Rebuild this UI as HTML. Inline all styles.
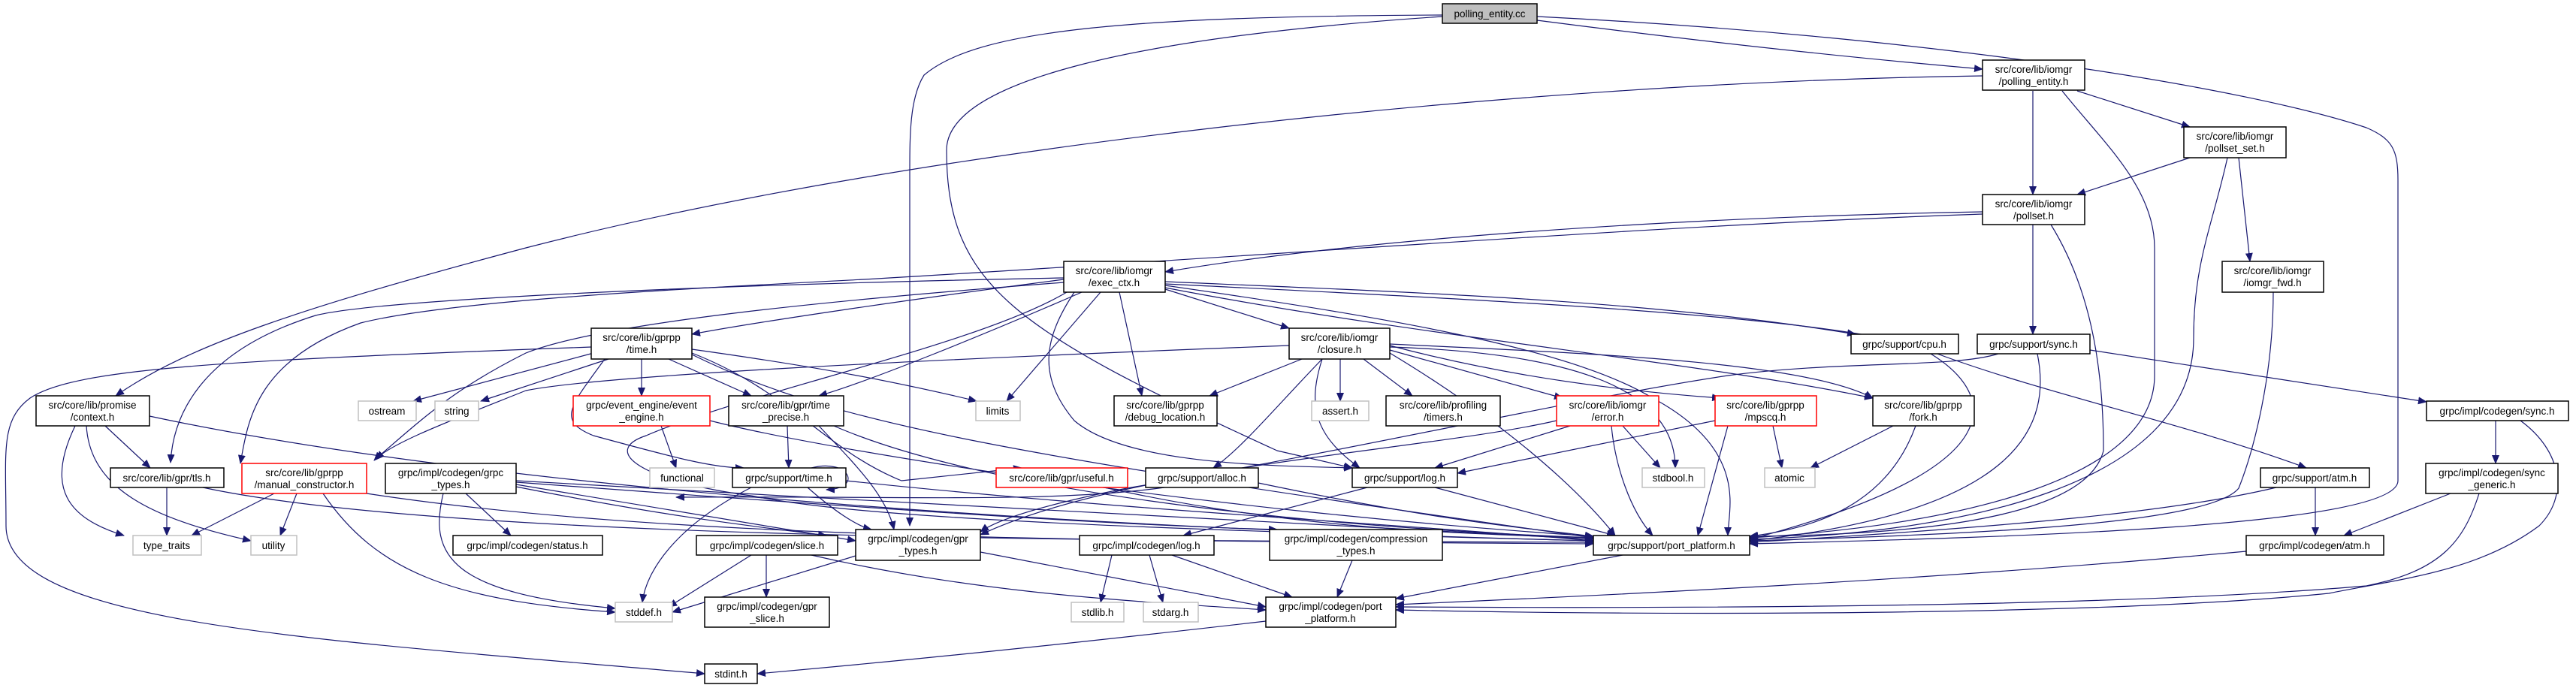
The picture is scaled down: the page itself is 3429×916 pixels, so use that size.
<!DOCTYPE html>
<html><head><meta charset="utf-8"><style>
html,body{margin:0;padding:0;background:#fff;}
svg{display:block;}
text{font-family:"Liberation Sans",sans-serif;font-size:13.5px;fill:#000;text-anchor:middle;}
.e{fill:none;stroke:#191970;stroke-width:1.2;marker-end:url(#a);}
.n{fill:#fff;stroke:#000;stroke-width:1.5;}
.g{fill:#fff;stroke:#c0c0c0;stroke-width:1.5;}
.r{fill:#fff;stroke:#ff0000;stroke-width:1.5;}
</style></head><body>
<svg width="3429" height="916" viewBox="0 0 3429 916" xmlns="http://www.w3.org/2000/svg">
<defs><marker id="a" markerWidth="12" markerHeight="10" refX="11" refY="5" orient="auto" markerUnits="userSpaceOnUse"><path d="M0,0 L12,5 L0,10 Z" fill="#191970"/></marker></defs>
<g>
<path class="e" d="M2046,27 C2300,60 2500,80 2639,92"/>
<path class="e" d="M2046,22 C2600,50 3000,120 3150,170 C3185,185 3192,200 3192,240 L3192,640 C3192,700 2700,715 2329,724"/>
<path class="e" d="M1920,20 C1500,22 1300,40 1230,100 C1211,130 1211,180 1211,230 L1211,700"/>
<path class="e" d="M1920,22 C1500,50 1260,110 1260,200 C1260,380 1350,440 1700,600 L1800,623"/>
<path class="e" d="M2639,101 C2000,110 1200,200 700,330 C400,410 250,460 154,527"/>
<path class="e" d="M2706,121 L2706,259"/>
<path class="e" d="M2765,121 L2915,169"/>
<path class="e" d="M2745,121 C2800,190 2868,250 2868,330 L2868,500 C2868,640 2600,700 2329,716"/>
<path class="e" d="M2915,210 L2765,259"/>
<path class="e" d="M2980,210 L2995,348"/>
<path class="e" d="M2965,210 C2945,300 2920,350 2920,450 C2920,650 2600,710 2329,718"/>
<path class="e" d="M3026,389 C3026,500 3000,600 2980,650 C2940,700 2600,712 2329,720"/>
<path class="e" d="M2639,282 C2200,290 1800,320 1551,362"/>
<path class="e" d="M2639,285 C2200,300 1700,340 1150,372 C900,385 600,400 480,430 C340,480 330,560 320,617"/>
<path class="e" d="M2706,299 L2706,445"/>
<path class="e" d="M2730,299 C2780,380 2800,480 2800,600 C2780,680 2600,712 2329,714"/>
<path class="e" d="M1551,385 L1716,437"/>
<path class="e" d="M1416,372 C1200,400 1000,430 921,445"/>
<path class="e" d="M1440,389 C1300,450 1150,510 1090,527"/>
<path class="e" d="M1465,389 L1340,534"/>
<path class="e" d="M1490,389 L1520,527"/>
<path class="e" d="M1551,375 C1900,390 2200,400 2470,445"/>
<path class="e" d="M1551,378 C2000,400 2400,420 2550,460 C2700,520 2900,560 3070,623"/>
<path class="e" d="M1551,380 C1900,430 2100,470 2200,530 C2330,600 2300,680 2300,713"/>
<path class="e" d="M1551,383 C1900,450 2250,480 2493,530"/>
<path class="e" d="M1416,370 C900,380 500,400 420,420 C260,470 230,560 227,616"/>
<path class="e" d="M1416,376 C1100,400 800,430 700,470 C600,520 560,560 500,611"/>
<path class="e" d="M1420,389 C1300,460 1000,520 860,580 C800,600 850,640 1000,660 C1100,680 1300,700 2121,720"/>
<path class="e" d="M1430,389 C1390,450 1380,500 1430,560 C1500,620 1700,620 1800,623"/>
<path class="e" d="M790,470 L550,534"/>
<path class="e" d="M810,478 L640,534"/>
<path class="e" d="M854,478 L854,527"/>
<path class="e" d="M890,478 L1000,527"/>
<path class="e" d="M921,465 C1100,490 1200,510 1300,534"/>
<path class="e" d="M805,478 C760,540 740,560 790,580 C900,610 950,623 990,623"/>
<path class="e" d="M787,462 C300,480 100,490 40,530 C0,560 8,600 8,700 C8,830 400,850 938,897"/>
<path class="e" d="M921,470 C1050,520 1100,600 1200,640 L1360,623"/>
<path class="e" d="M921,472 C1100,560 1300,600 2121,716"/>
<path class="e" d="M1733,478 L1610,527"/>
<path class="e" d="M1784,478 L1784,534"/>
<path class="e" d="M1815,478 L1880,527"/>
<path class="e" d="M1850,466 L2080,530"/>
<path class="e" d="M1850,460 C2000,500 2150,520 2290,530"/>
<path class="e" d="M1850,458 C2100,470 2400,480 2493,530"/>
<path class="e" d="M1760,478 C1700,540 1650,600 1615,623"/>
<path class="e" d="M1760,478 C1740,540 1750,580 1810,623"/>
<path class="e" d="M1850,462 C2100,470 2230,520 2230,623"/>
<path class="e" d="M1716,460 C1200,480 800,500 700,520 C600,560 520,590 498,613"/>
<path class="e" d="M1850,470 C2000,560 2100,650 2150,713"/>
<path class="e" d="M140,567 L200,623"/>
<path class="e" d="M100,567 C60,650 90,690 165,713"/>
<path class="e" d="M115,567 C120,650 200,690 334,720"/>
<path class="e" d="M199,554 C600,640 1300,700 2121,720"/>
<path class="e" d="M222,649 L222,713"/>
<path class="e" d="M270,649 C600,720 1500,720 2121,722"/>
<path class="e" d="M365,657 L255,713"/>
<path class="e" d="M395,657 L373,713"/>
<path class="e" d="M430,657 C500,760 600,800 819,815"/>
<path class="e" d="M488,657 C900,720 1500,720 2121,724"/>
<path class="e" d="M620,657 L680,713"/>
<path class="e" d="M590,657 C570,740 600,790 819,810"/>
<path class="e" d="M687,645 L1139,720"/>
<path class="e" d="M687,648 C900,690 1000,700 1100,713"/>
<path class="e" d="M687,642 C1200,680 1500,700 1700,705"/>
<path class="e" d="M687,640 C1200,670 1800,700 2121,718"/>
<path class="e" d="M880,567 L900,623"/>
<path class="e" d="M945,560 C1100,600 1600,680 2121,714"/>
<path class="e" d="M1048,567 L1050,623"/>
<path class="e" d="M1090,567 C1140,620 1180,660 1190,705"/>
<path class="e" d="M1110,567 C1300,650 1700,700 2121,716"/>
<path class="e" d="M1080,623 C1130,610 1150,650 1100,652"/>
<path class="e" d="M1000,649 C900,700 860,760 855,802"/>
<path class="e" d="M1075,649 C1110,680 1140,700 1160,705"/>
<path class="e" d="M1126,640 C1500,680 1900,700 2121,720"/>
<path class="e" d="M1000,739 L890,808"/>
<path class="e" d="M1020,739 L1020,795"/>
<path class="e" d="M1080,739 C1300,790 1500,800 1685,812"/>
<path class="e" d="M1139,740 L895,815"/>
<path class="e" d="M1305,735 L1685,808"/>
<path class="e" d="M1470,649 C1700,700 1900,710 2121,716"/>
<path class="e" d="M1550,649 C1400,670 1200,660 900,662"/>
<path class="e" d="M1675,643 C1900,690 2000,700 2121,714"/>
<path class="e" d="M1820,649 L1575,713"/>
<path class="e" d="M1910,649 L2150,713"/>
<path class="e" d="M1480,739 L1465,802"/>
<path class="e" d="M1530,739 L1548,802"/>
<path class="e" d="M1560,739 L1720,795"/>
<path class="e" d="M1800,746 L1780,795"/>
<path class="e" d="M2160,739 L1858,797"/>
<path class="e" d="M1685,827 C1400,860 1200,880 1008,897"/>
<path class="e" d="M2090,567 L1910,623"/>
<path class="e" d="M2160,567 L2210,623"/>
<path class="e" d="M2145,567 C2150,620 2170,680 2200,713"/>
<path class="e" d="M2072,560 C1900,600 1500,620 1305,712"/>
<path class="e" d="M2300,567 L2260,713"/>
<path class="e" d="M2283,560 L1940,630"/>
<path class="e" d="M2360,567 L2372,623"/>
<path class="e" d="M2520,567 L2410,623"/>
<path class="e" d="M2550,567 C2520,650 2450,700 2329,714"/>
<path class="e" d="M2570,471 C2650,520 2700,620 2329,718"/>
<path class="e" d="M2712,471 C2730,560 2700,680 2329,720"/>
<path class="e" d="M2782,466 L3230,535"/>
<path class="e" d="M2660,471 C2600,490 2450,480 2300,500 C2100,530 1800,600 1500,650 C1400,670 1330,690 1305,708"/>
<path class="e" d="M3322,560 L3322,617"/>
<path class="e" d="M3355,560 C3410,600 3420,660 3380,700 C3300,760 3200,770 3100,790 C2800,820 2200,820 1858,812"/>
<path class="e" d="M3262,657 L3120,713"/>
<path class="e" d="M3300,657 C3280,720 3250,760 3150,780 C2800,810 2200,810 1858,808"/>
<path class="e" d="M3082,649 L3082,713"/>
<path class="e" d="M3030,649 C2900,680 2700,700 2329,722"/>
<path class="e" d="M2990,734 C2600,770 2200,790 1858,805"/>
</g>
<rect x="1920" y="5" width="126" height="26" fill="#bfbfbf" stroke="#000" stroke-width="1.5"/><text x="1983" y="23">polling_entity.cc</text>
<rect class="n" x="2639" y="80" width="136" height="40"/><text x="2707" y="97">src/core/lib/iomgr</text><text x="2707" y="113">/polling_entity.h</text>
<rect class="n" x="2907" y="169" width="136" height="41"/><text x="2975" y="186">src/core/lib/iomgr</text><text x="2975" y="202">/pollset_set.h</text>
<rect class="n" x="2639" y="259" width="136" height="40"/><text x="2707" y="276">src/core/lib/iomgr</text><text x="2707" y="292">/pollset.h</text>
<rect class="n" x="2958" y="348" width="135" height="41"/><text x="3025" y="365">src/core/lib/iomgr</text><text x="3025" y="381">/iomgr_fwd.h</text>
<rect class="n" x="2464" y="445" width="143" height="26"/><text x="2535" y="463">grpc/support/cpu.h</text>
<rect class="n" x="2632" y="445" width="150" height="26"/><text x="2707" y="463">grpc/support/sync.h</text>
<rect class="n" x="1416" y="348" width="135" height="41"/><text x="1483" y="365">src/core/lib/iomgr</text><text x="1483" y="381">/exec_ctx.h</text>
<rect class="n" x="1716" y="437" width="134" height="41"/><text x="1783" y="454">src/core/lib/iomgr</text><text x="1783" y="470">/closure.h</text>
<rect class="n" x="787" y="437" width="134" height="41"/><text x="854" y="454">src/core/lib/gprpp</text><text x="854" y="470">/time.h</text>
<rect class="n" x="48" y="527" width="151" height="40"/><text x="123" y="544">src/core/lib/promise</text><text x="123" y="560">/context.h</text>
<rect class="n" x="147" y="623" width="151" height="26"/><text x="222" y="641">src/core/lib/gpr/tls.h</text>
<rect class="r" x="322" y="617" width="166" height="40"/><text x="405" y="634">src/core/lib/gprpp</text><text x="405" y="650">/manual_constructor.h</text>
<rect class="n" x="513" y="617" width="174" height="40"/><text x="600" y="634">grpc/impl/codegen/grpc</text><text x="600" y="650">_types.h</text>
<rect class="g" x="477" y="534" width="77" height="26"/><text x="515" y="552">ostream</text>
<rect class="g" x="579" y="534" width="58" height="26"/><text x="608" y="552">string</text>
<rect class="r" x="763" y="527" width="182" height="40"/><text x="854" y="544">grpc/event_engine/event</text><text x="854" y="560">_engine.h</text>
<rect class="n" x="970" y="527" width="153" height="40"/><text x="1046" y="544">src/core/lib/gpr/time</text><text x="1046" y="560">_precise.h</text>
<rect class="g" x="865" y="623" width="86" height="26"/><text x="908" y="641">functional</text>
<rect class="n" x="975" y="623" width="151" height="26"/><text x="1050" y="641">grpc/support/time.h</text>
<rect class="g" x="177" y="713" width="91" height="26"/><text x="222" y="731">type_traits</text>
<rect class="g" x="334" y="713" width="61" height="26"/><text x="364" y="731">utility</text>
<rect class="n" x="603" y="713" width="199" height="26"/><text x="702" y="731">grpc/impl/codegen/status.h</text>
<rect class="n" x="927" y="713" width="188" height="26"/><text x="1021" y="731">grpc/impl/codegen/slice.h</text>
<rect class="g" x="819" y="802" width="76" height="26"/><text x="857" y="820">stddef.h</text>
<rect class="n" x="938" y="795" width="166" height="40"/><text x="1021" y="812">grpc/impl/codegen/gpr</text><text x="1021" y="828">_slice.h</text>
<rect class="n" x="938" y="884" width="70" height="26"/><text x="973" y="902">stdint.h</text>
<rect class="g" x="1299" y="534" width="59" height="26"/><text x="1328" y="552">limits</text>
<rect class="n" x="1483" y="527" width="137" height="40"/><text x="1551" y="544">src/core/lib/gprpp</text><text x="1551" y="560">/debug_location.h</text>
<rect class="g" x="1746" y="534" width="76" height="26"/><text x="1784" y="552">assert.h</text>
<rect class="n" x="1845" y="527" width="152" height="40"/><text x="1921" y="544">src/core/lib/profiling</text><text x="1921" y="560">/timers.h</text>
<rect class="r" x="2072" y="527" width="136" height="40"/><text x="2140" y="544">src/core/lib/iomgr</text><text x="2140" y="560">/error.h</text>
<rect class="r" x="1326" y="623" width="175" height="26"/><text x="1413" y="641">src/core/lib/gpr/useful.h</text>
<rect class="n" x="1525" y="623" width="150" height="26"/><text x="1600" y="641">grpc/support/alloc.h</text>
<rect class="n" x="1800" y="623" width="140" height="26"/><text x="1870" y="641">grpc/support/log.h</text>
<rect class="g" x="2186" y="623" width="83" height="26"/><text x="2227" y="641">stdbool.h</text>
<rect class="n" x="1139" y="705" width="166" height="41"/><text x="1222" y="722">grpc/impl/codegen/gpr</text><text x="1222" y="738">_types.h</text>
<rect class="n" x="1437" y="713" width="179" height="26"/><text x="1526" y="731">grpc/impl/codegen/log.h</text>
<rect class="n" x="1690" y="705" width="230" height="41"/><text x="1805" y="722">grpc/impl/codegen/compression</text><text x="1805" y="738">_types.h</text>
<rect class="n" x="2121" y="713" width="208" height="26"/><text x="2225" y="731">grpc/support/port_platform.h</text>
<rect class="g" x="1426" y="802" width="70" height="26"/><text x="1461" y="820">stdlib.h</text>
<rect class="g" x="1522" y="802" width="73" height="26"/><text x="1558" y="820">stdarg.h</text>
<rect class="n" x="1685" y="795" width="173" height="40"/><text x="1771" y="812">grpc/impl/codegen/port</text><text x="1771" y="828">_platform.h</text>
<rect class="r" x="2283" y="527" width="135" height="40"/><text x="2350" y="544">src/core/lib/gprpp</text><text x="2350" y="560">/mpscq.h</text>
<rect class="n" x="2493" y="527" width="135" height="40"/><text x="2560" y="544">src/core/lib/gprpp</text><text x="2560" y="560">/fork.h</text>
<rect class="g" x="2349" y="623" width="67" height="26"/><text x="2382" y="641">atomic</text>
<rect class="n" x="3009" y="623" width="145" height="26"/><text x="3081" y="641">grpc/support/atm.h</text>
<rect class="n" x="3230" y="534" width="189" height="26"/><text x="3324" y="552">grpc/impl/codegen/sync.h</text>
<rect class="n" x="3229" y="617" width="176" height="40"/><text x="3317" y="634">grpc/impl/codegen/sync</text><text x="3317" y="650">_generic.h</text>
<rect class="n" x="2990" y="713" width="183" height="26"/><text x="3081" y="731">grpc/impl/codegen/atm.h</text>
</svg>
</body></html>
